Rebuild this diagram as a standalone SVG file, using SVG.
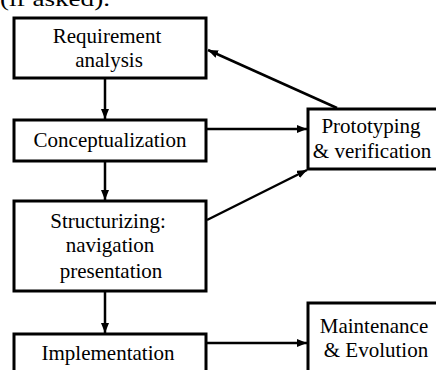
<svg xmlns="http://www.w3.org/2000/svg" width="436" height="370" viewBox="0 0 436 370">
<defs>
<marker id="ah" markerUnits="userSpaceOnUse" markerWidth="10" markerHeight="8" refX="10" refY="4" orient="auto">
<path d="M0,0 L10,4 L0,8 z" fill="#000"/>
</marker>
<style>
.box{fill:#fff;stroke:#000;stroke-width:3}
.t{font-family:"Liberation Serif",serif;font-size:21px;fill:#000;text-anchor:middle}
.c{fill:none;stroke:#000;stroke-width:2.5;marker-end:url(#ah)}
</style>
</defs>
<rect width="436" height="370" fill="#fff"/>
<text x="0" y="6" style="font-family:'Liberation Serif',serif;font-size:22px" textLength="110" lengthAdjust="spacingAndGlyphs">(if asked).</text>
<g id="connectors">
<line class="c" x1="105" y1="79" x2="105" y2="119"/>
<line class="c" x1="105" y1="162" x2="105" y2="200"/>
<line class="c" x1="105" y1="292" x2="105" y2="333"/>
<line class="c" x1="207" y1="129" x2="307" y2="129"/>
<line class="c" x1="207" y1="220" x2="307" y2="170"/>
<line class="c" x1="207" y1="343" x2="307" y2="343"/>
<line class="c" x1="337" y1="108" x2="208" y2="50"/>
</g>
<g id="requirement">
<rect class="box" x="14" y="18" width="192" height="60"/>
<text class="t" x="107" y="43">Requirement</text>
<text class="t" x="109" y="67">analysis</text>
</g>
<g id="conceptualization">
<rect class="box" x="14" y="120" width="192" height="41"/>
<text class="t" x="110" y="147">Conceptualization</text>
</g>
<g id="structurizing">
<rect class="box" x="14" y="201" width="192" height="90"/>
<text class="t" x="108" y="228">Structurizing:</text>
<text class="t" x="110" y="252">navigation</text>
<text class="t" x="111" y="278">presentation</text>
</g>
<g id="implementation">
<rect class="box" x="14" y="334" width="192" height="50"/>
<text class="t" x="108" y="360">Implementation</text>
</g>
<g id="prototyping">
<rect class="box" x="308" y="109" width="140" height="60"/>
<text class="t" x="371" y="133">Prototyping</text>
<text class="t" x="372" y="158">&amp; verification</text>
</g>
<g id="maintenance">
<rect class="box" x="308" y="303" width="140" height="80"/>
<text class="t" x="374" y="333">Maintenance</text>
<text class="t" x="376" y="357">&amp; Evolution</text>
</g>
</svg>
